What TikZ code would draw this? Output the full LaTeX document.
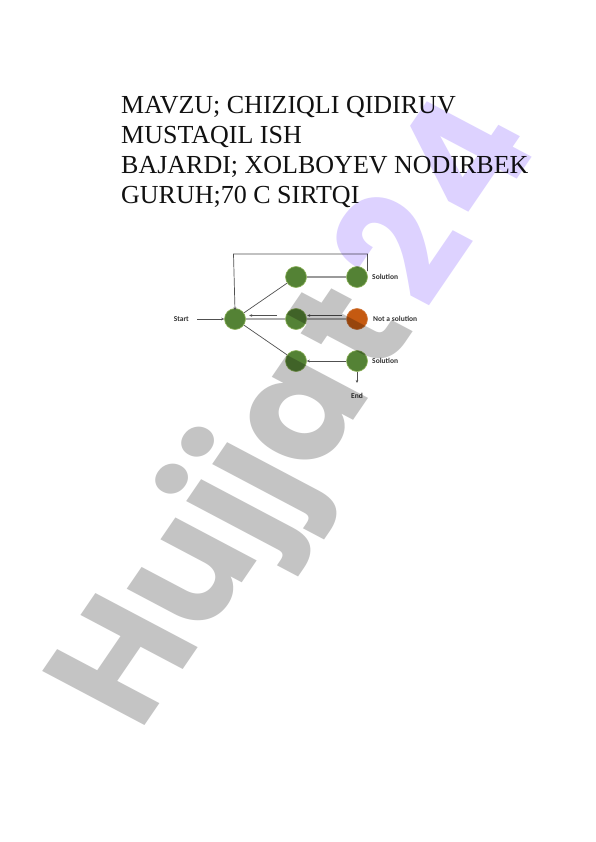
\documentclass[tikz,border=0pt]{standalone}
\usepackage{fontspec}
\setmainfont{Liberation Serif}
\newfontfamily\lblfont{Carlito}
\newfontfamily\wmfont{Poppins}
\usetikzlibrary{arrows.meta}
\definecolor{grn}{HTML}{548235}
\definecolor{grnedge}{HTML}{8DB25A}
\definecolor{orng}{HTML}{C55A11}
\definecolor{wmgray}{HTML}{C4C4C4}
\definecolor{wmlav}{HTML}{DDD2FF}
\definecolor{titlecol}{HTML}{111111}
\definecolor{thinline}{HTML}{505050}
\definecolor{thickline}{HTML}{9A9A9A}
\tikzset{
  titleline/.style={anchor=base west, inner sep=0pt, text=titlecol, font=\fontsize{26}{30}\selectfont},
  dot/.style={circle, fill=grn, draw=grnedge, line width=0.6pt, minimum size=21pt, inner sep=0pt},
  baddot/.style={dot, fill=orng, draw=orng!80!white},
  lbl/.style={font=\lblfont\bfseries\fontsize{7.5}{8}\selectfont, text=black!80, inner sep=0pt},
  thin/.style={draw=thinline, line width=0.7pt},
  thick/.style={draw=thickline, line width=2pt},
  arr/.style={thin, -{Stealth[length=3pt,width=2.6pt]}},
  wm/.style={font=\wmfont\bfseries\fontsize{170}{170}\selectfont, inner sep=0pt, transform shape, rotate=59}
}
\begin{document}
\begin{tikzpicture}[x=1pt,y=-1pt]
\useasboundingbox (0,0) rectangle (596,842);
\fill[white] (0,0) rectangle (596,842);

% title
\node[titleline] (t1) at (121,114) {MAVZU; CHIZIQLI QIDIRUV};
\node[titleline] (t2) at (121,144) {MUSTAQIL ISH};
\node[titleline] (t3) at (121,174) {BAJARDI; XOLBOYEV NODIRBEK};
\node[titleline] (t4) at (121,204) {GURUH;70 C SIRTQI};

% diagram nodes
\node[dot] (s)  at (235,319) {};
\node[dot] (a1) at (296,277) {};
\node[dot] (a2) at (357,277) {};
\node[dot] (b1) at (296,319) {};
\node[baddot] (b2) at (357,319) {};
\node[dot] (c1) at (296,361) {};
\node[dot] (c2) at (357,361) {};

\node[lbl, anchor=east] (start) at (189,319) {Start};
\node[lbl, anchor=west] (l1) at (372,277) {Solution};
\node[lbl, anchor=west] (l2) at (373,319) {Not a solution};
\node[lbl, anchor=west] (l3) at (372,361) {Solution};
\node[lbl] (endl) at (357,396) {End};
\coordinate (loopS) at (367.5,271);
\coordinate (loopL) at (233.5,254);
\coordinate (endp) at (357,383);

% connectors
\draw[thick] (a1) -- (a2);
\draw[thick, draw=thickline!80!white] (s) -- (b1);
\draw[thick, draw=thickline!80!white] (b1) -- (b2);
\draw[arr] (start.east) ++(8,0) -- (s.west);
\draw[thin] (s) -- (a1);
\draw[thin] (s) -- (c1);
\draw[arr] (loopS) |- (loopL) -- ([yshift=-2pt]s.north);
\draw[arr] ([yshift=3.5pt]b2.west) ++(-4,0) -- ++(-35,0);
\draw[arr] ([yshift=3.5pt]b1.west) ++(-8,0) -- ++(-28,0);
\draw[arr] (c2.west) -- (c1.east);
\draw[arr] (c2.south) -- (endp);

% watermark
\begin{scope}[blend mode=multiply, shift={(290,435)}, yscale=0.88]
\node[wm, anchor=center] (wmark) at (12.4,-20.5) {\textcolor{wmgray}{Hujja\kern14pt t}\kern22pt\textcolor{wmlav}{2\kern12pt 4}};
\end{scope}
\end{tikzpicture}
\end{document}
